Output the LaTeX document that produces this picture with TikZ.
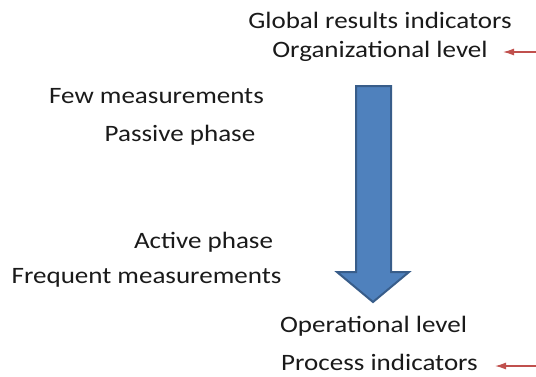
\documentclass[tikz,border=0pt]{standalone}
\usepackage{fontspec}
\setmainfont{Carlito}[FakeStretch=1.15]
\usetikzlibrary{arrows.meta}
\definecolor{arrfill}{HTML}{4F81BD}
\definecolor{arrline}{HTML}{385D8A}
\definecolor{redline}{HTML}{C0504D}
\definecolor{txt}{HTML}{1A1A1A}
\begin{document}
\begin{tikzpicture}[x=1pt,y=-1pt,
  lbl/.style={font=\fontsize{23.5}{26}\selectfont, text=txt, inner sep=0pt, anchor=base},
  redarr/.style={draw=redline, line width=1.3pt, -{Latex[length=11pt,width=7pt]}}]
\useasboundingbox (0,0) rectangle (536,376);
\node[lbl] (glob) at (380,28) {Global results indicators};
\node[lbl] (org) at (380,57) {Organizational level};
\node[lbl] (few) at (156.5,103) {Few measurements};
\node[lbl] (pas) at (180,141) {Passive phase};
\node[lbl] (act) at (203.5,248) {Active phase};
\node[lbl] (freq) at (146.5,283) {Frequent measurements};
\node[lbl] (op) at (373.5,332) {Operational level};
\node[lbl] (proc) at (379.5,370.5) {Process indicators};
\draw[fill=arrfill, draw=arrline, line width=2pt, line join=miter]
  (356,86) -- (391,86) -- (391,272) -- (409,272) -- (373,302) -- (337,272) -- (356,272) -- cycle;
\coordinate (r1s) at (537,52);
\coordinate (r1t) at (503,52);
\coordinate (r2s) at (537,366);
\coordinate (r2t) at (495,366);
\draw[redarr] (r1s) -- (r1t);
\draw[redarr] (r2s) -- (r2t);
\end{tikzpicture}
\end{document}
